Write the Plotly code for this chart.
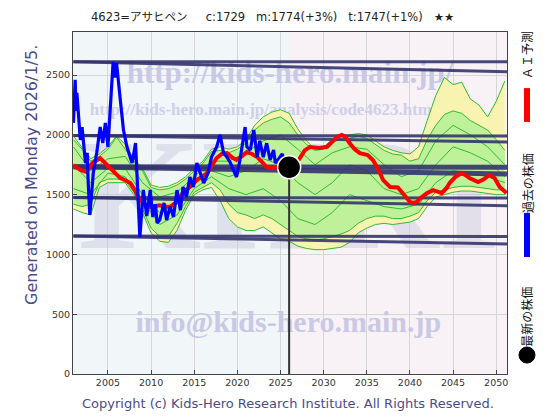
import plotly.graph_objects as go

# ---------------- data ----------------
title_text = "4623=アサヒペン\u00a0\u00a0\u00a0\u00a0 c:1729\u00a0\u00a0 m:1774(+3%)\u00a0\u00a0 t:1747(+1%)\u00a0\u00a0 ★★"
ylabel_text = "Generated on Monday 2026/1/5."
copyright_text = "Copyright (c) Kids-Hero Research Institute. All Rights Reserved."
legend_labels = ["ＡＩ予測", "過去の株価", "最新の株価"]

latest_year = 2026.0
latest_price = 1729

x_ticks = [2005, 2010, 2015, 2020, 2025, 2030, 2035, 2040, 2045, 2050]
y_ticks = [0, 500, 1000, 1500, 2000, 2500]

hist_years = [2001.0, 2001.1, 2001.2, 2001.3, 2001.4, 2001.8, 2002.0, 2002.4, 2002.6, 2002.7,
              2002.9, 2003.1, 2003.3, 2003.7, 2004.1, 2004.4, 2004.7, 2005.0, 2005.2, 2005.6,
              2005.8, 2006.0, 2006.4, 2006.8, 2007.2, 2007.8, 2008.2, 2008.4, 2008.7, 2009.1,
              2009.5, 2009.9, 2010.2, 2010.5, 2010.7, 2011.0, 2011.5, 2011.8, 2012.2, 2012.6,
              2013.0, 2013.4, 2013.7, 2014.1, 2014.5, 2014.9, 2015.3, 2015.7, 2016.1, 2016.6,
              2017.0, 2017.6, 2018.0, 2018.4, 2018.8, 2019.2, 2019.6, 2019.9, 2020.3, 2020.7,
              2020.9, 2021.1, 2021.5, 2021.9, 2022.3, 2022.6, 2023.0, 2023.4, 2023.8, 2024.2,
              2024.4, 2024.8, 2025.2, 2025.5, 2025.8, 2026.0]
hist_prices = [2100, 2300, 2460, 2200, 2350, 1957, 2065, 1764, 1850, 1620,
               1330, 1500, 1680, 1850, 2065, 1931, 2100, 1900, 2180, 2610,
               2480, 2600, 2316, 2040, 1900, 1764, 1931, 1622, 1145, 1540,
               1320, 1540, 1313, 1420, 1262, 1288, 1430, 1288, 1400, 1314,
               1538, 1370, 1564, 1480, 1647, 1564, 1764, 1680, 1597, 1680,
               1814, 1898, 2000, 1847, 1814, 1764, 1700, 1647, 1790, 1957,
               2065, 1900, 1873, 2040, 1814, 1950, 1814, 1930, 1790, 1873,
               1764, 1800, 1840, 1760, 1780, 1729]

ai_years = [2001.0, 2001.8, 2002.5, 2003.2, 2004.1, 2004.7, 2005.3, 2005.8, 2006.4, 2007.0,
            2007.6, 2008.1, 2008.7, 2009.3, 2009.9, 2010.5, 2011.0, 2011.6, 2012.2, 2012.8,
            2013.4, 2013.9, 2014.5, 2015.3, 2015.9, 2016.5, 2017.1, 2017.6, 2018.2, 2018.8,
            2019.4, 2019.9, 2020.5, 2021.1, 2021.7, 2022.3, 2022.9, 2023.4, 2024.1, 2024.8,
            2025.3, 2026.0, 2026.5, 2027.2, 2027.8, 2028.4, 2029.0, 2029.5, 2030.4, 2031.0,
            2031.6, 2032.1, 2032.5, 2033.0, 2033.6, 2034.2, 2035.1, 2035.7, 2036.2, 2036.9,
            2037.7, 2038.6, 2039.4, 2040.0, 2040.4, 2040.8, 2041.2, 2042.0, 2042.7, 2043.3,
            2043.7, 2044.3, 2044.6, 2045.3, 2046.0, 2046.5, 2046.9, 2047.9, 2048.6, 2049.2,
            2049.8, 2050.4, 2051.2]
ai_prices = [1747, 1706, 1690, 1764, 1806, 1760, 1720, 1680, 1640, 1620,
             1597, 1540, 1455, 1415, 1397, 1405, 1410, 1400, 1397, 1430,
             1480, 1530, 1564, 1622, 1650, 1680, 1750, 1806, 1840, 1847,
             1810, 1790, 1820, 1856, 1840, 1814, 1770, 1730, 1722, 1730,
             1740, 1729, 1740, 1800, 1870, 1898, 1895, 1890, 1900, 1940,
             1985, 2000, 1985, 1931, 1880, 1847, 1831, 1790, 1730, 1622,
             1564, 1560, 1497, 1440, 1430, 1440, 1470, 1513, 1538, 1520,
             1513, 1560, 1597, 1650, 1680, 1660, 1639, 1605, 1630, 1664,
             1640, 1564, 1513]

band_years = list(range(2001, 2052))
yellow_upper = [1990, 1900, 1800, 1840, 1900, 1990, 1920, 1800, 1720, 1580,
                1560, 1570, 1600, 1650, 1720, 1780, 1880, 1900, 1880, 1900,
                1960, 2080, 2150, 2190, 2210, 2180, 2050, 1950, 1880, 1900,
                1960, 1990, 2000, 2010, 2000, 1950, 1900, 1870, 1850, 1840,
                1900, 2120, 2330, 2480, 2420, 2440, 2300, 2250, 2150, 2280,
                2450]
yellow_lower = [1380, 1350, 1330, 1560, 1600, 1600, 1600, 1500, 1350, 1180,
                1110, 1100, 1200, 1370, 1500, 1540, 1560, 1450, 1300, 1230,
                1200, 1200, 1230, 1180, 1130, 1110, 1070, 1050, 1040, 1040,
                1050, 1060, 1100, 1180, 1220, 1250, 1260, 1250, 1260, 1270,
                1300, 1400, 1480, 1500, 1520, 1530, 1530, 1520, 1510, 1500,
                1500]
green_upper = [1960, 1880, 1780, 1820, 1880, 1980, 1880, 1780, 1700, 1560,
               1540, 1550, 1580, 1630, 1700, 1760, 1860, 1870, 1850, 1880,
               1930, 2040, 2100, 2130, 2150, 2100, 2000, 1920, 1870, 1880,
               1940, 1960, 1970, 1990, 1970, 1920, 1870, 1840, 1830, 1780,
               1800, 1960, 2080, 2170, 2200, 2180, 2120, 2080, 2040, 1960,
               1870]
green_lower = [1420, 1400, 1420, 1600, 1630, 1630, 1620, 1520, 1380, 1220,
               1150, 1150, 1260, 1400, 1520, 1560, 1600, 1540, 1420, 1350,
               1330, 1300, 1330, 1300, 1250, 1200, 1150, 1130, 1120, 1130,
               1150, 1170, 1200, 1260, 1300, 1320, 1320, 1300, 1300, 1320,
               1350, 1450, 1520, 1540, 1560, 1570, 1570, 1560, 1550, 1540,
               1540]

scen_years = list(range(2001, 2052, 2))
scenario_1 = [1900, 1700, 1800, 1820, 1600, 1480, 1520, 1650, 1780, 1780, 1850, 1950, 2000,
              1880, 1750, 1850, 1900, 1880, 1750, 1650, 1700, 1950, 2080, 2000, 1900, 1750]
scenario_2 = [1750, 1600, 1720, 1720, 1500, 1350, 1420, 1600, 1700, 1650, 1700, 1800, 1750,
              1600, 1500, 1600, 1750, 1700, 1550, 1500, 1550, 1750, 1900, 1850, 1780, 1650]
scenario_3 = [1550, 1500, 1680, 1650, 1450, 1250, 1330, 1550, 1650, 1550, 1500, 1550, 1450,
              1300, 1250, 1350, 1500, 1450, 1400, 1380, 1420, 1600, 1700, 1680, 1650, 1600]

trend_x = [2001.0, 2051.25]
trend_start = [2611, 2611, 1995, 1995, 1733, 1733, 1476, 1476, 1155, 1155]
trend_end = [2611, 2527, 1990, 1940, 1730, 1672, 1472, 1406, 1150, 1087]
trend_width = [3, 3, 3, 3, 5, 5, 3, 3, 3, 3]

watermark_texts = ["<b>http://kids-hero.main.jp/</b>",
                   "<b>http://kids-hero.main.jp/analysis/code4623.html</b>",
                   "<b>info@kids-hero.main.jp</b>",
                   "<b>KHRI</b>"]
watermark_x = [2026.1, 2002.9, 2025.9, 2026.0]
watermark_y = [2500, 2205, 410, 1380]
watermark_size = [31, 17, 30, 158]
watermark_pos = ["middle center", "middle right", "middle center", "middle center"]

# ---------------- figure ----------------
fig = go.Figure()

serif = "Liberation Serif, DejaVu Serif, serif"
wm_colors = ["#c9c9e6", "#cfcfe8", "#c9c9e6", "rgba(200,200,222,0.45)"]
for i in [3, 0, 1, 2]:
    fig.add_trace(go.Scatter(x=[watermark_x[i]], y=[watermark_y[i]], mode="text",
                             text=[watermark_texts[i]], textposition=watermark_pos[i],
                             textfont=dict(family=serif, size=watermark_size[i], color=wm_colors[i]),
                             hoverinfo="skip", showlegend=False))

GREEN = "#2fbb2f"
fig.add_trace(go.Scatter(x=band_years, y=yellow_lower, mode="lines",
                         line=dict(color=GREEN, width=1), showlegend=False, hoverinfo="skip"))
fig.add_trace(go.Scatter(x=band_years, y=yellow_upper, mode="lines", fill="tonexty",
                         fillcolor="#f9f3b2", line=dict(color=GREEN, width=1),
                         showlegend=False, hoverinfo="skip"))
fig.add_trace(go.Scatter(x=band_years, y=green_lower, mode="lines",
                         line=dict(color=GREEN, width=1), showlegend=False, hoverinfo="skip"))
fig.add_trace(go.Scatter(x=band_years, y=green_upper, mode="lines", fill="tonexty",
                         fillcolor="#bff19a", line=dict(color=GREEN, width=1),
                         showlegend=False, hoverinfo="skip"))
for s in [scenario_1, scenario_2, scenario_3]:
    fig.add_trace(go.Scatter(x=scen_years, y=s, mode="lines",
                             line=dict(color=GREEN, width=1), showlegend=False, hoverinfo="skip"))

for a, b, w in zip(trend_start, trend_end, trend_width):
    fig.add_trace(go.Scatter(x=trend_x, y=[a, b], mode="lines",
                             line=dict(color="rgba(52,52,110,0.9)", width=w),
                             showlegend=False, hoverinfo="skip"))

fig.add_trace(go.Scatter(x=ai_years, y=ai_prices, mode="lines",
                         line=dict(color="#ff0000", width=4), showlegend=False))
fig.add_trace(go.Scatter(x=hist_years, y=hist_prices, mode="lines",
                         line=dict(color="#0000ff", width=3.2), showlegend=False))
fig.add_trace(go.Scatter(x=[latest_year, latest_year], y=[0, latest_price], mode="lines",
                         line=dict(color="#333333", width=2), showlegend=False, hoverinfo="skip"))
fig.add_trace(go.Scatter(x=[latest_year], y=[latest_price], mode="markers",
                         marker=dict(color="black", size=23, line=dict(color="white", width=1.5)),
                         showlegend=False))

shapes = [
    dict(type="rect", xref="x", yref="paper", x0=2000.95, x1=latest_year, y0=0, y1=1,
         fillcolor="#f1f6f8", line=dict(width=0), layer="below"),
    dict(type="rect", xref="x", yref="paper", x0=latest_year, x1=2051.25, y0=0, y1=1,
         fillcolor="#f8f2f6", line=dict(width=0), layer="below"),
    dict(type="rect", xref="paper", yref="paper", x0=1.0392, x1=1.0530, y0=0.737, y1=0.836,
         fillcolor="#ff0000", line=dict(width=0)),
    dict(type="rect", xref="paper", yref="paper", x0=1.0392, x1=1.0530, y0=0.342, y1=0.471,
         fillcolor="#0000ff", line=dict(width=0)),
    dict(type="circle", xref="paper", yref="paper", x0=1.0276, x1=1.0645, y0=0.032, y1=0.079,
         fillcolor="black", line=dict(color="black", width=1)),
]

sans = "DejaVu Sans, Noto Sans CJK JP, sans-serif"
annotations = [
    dict(text=title_text, xref="paper", yref="paper", x=0.46, y=1.044, showarrow=False,
         xanchor="center", yanchor="middle", font=dict(family=sans, size=11.5, color="#222222")),
    dict(text=ylabel_text, xref="paper", yref="paper", x=-0.0945, y=0.582, showarrow=False,
         textangle=-90, xanchor="center", yanchor="middle",
         font=dict(family=sans, size=16, color="#4b4b8c")),
    dict(text=copyright_text, xref="paper", yref="paper", x=0.495, y=-0.085, showarrow=False,
         xanchor="center", yanchor="middle", font=dict(family=sans, size=13, color="#4b4b8c")),
]
legend_y = [0.933, 0.558, 0.167]
for lab, ly in zip(legend_labels, legend_y):
    annotations.append(dict(text=lab, xref="paper", yref="paper", x=1.046, y=ly, showarrow=False,
                            textangle=-90, xanchor="center", yanchor="middle",
                            font=dict(family="Noto Sans CJK JP, sans-serif", size=12, color="#111111")))

# page body has an 8px default margin: the figure is sized to fit the 560x420 window
fig.update_layout(
    width=552, height=412,
    margin=dict(l=65, r=53, t=24, b=46),
    paper_bgcolor="white", plot_bgcolor="#f5f5f8",
    showlegend=False,
    shapes=shapes, annotations=annotations,
    xaxis=dict(range=[2000.95, 2051.25], tickvals=x_ticks, ticks="inside", ticklen=4,
               tickcolor="#444", showgrid=True, gridcolor="#d6d6d6", gridwidth=1,
               showline=True, linecolor="#444", linewidth=1, mirror=True, zeroline=False,
               tickfont=dict(family=sans, size=9.5, color="#333")),
    yaxis=dict(range=[0, 2860], tickvals=y_ticks, ticks="inside", ticklen=4,
               tickcolor="#444", showgrid=True, gridcolor="#d6d6d6", gridwidth=1,
               showline=True, linecolor="#444", linewidth=1, mirror=True, zeroline=False,
               tickfont=dict(family=sans, size=9.5, color="#333")),
)

fig.write_html("out.html")
